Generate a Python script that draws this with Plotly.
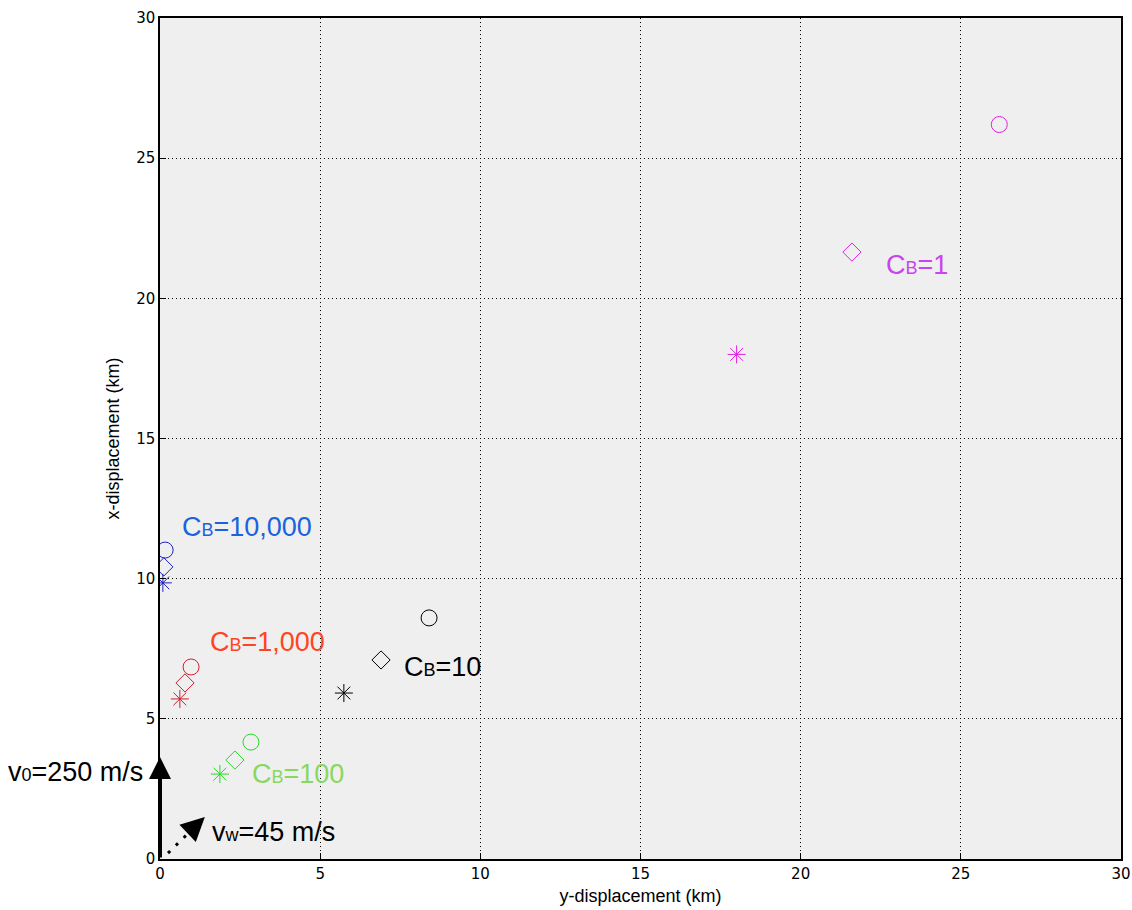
import plotly.graph_objects as go

SUB = '<span style="font-size:18px">{}</span>'

# Ballistic coefficient groups and landing displacements (km)
cb_values = ["1", "10", "100", "1,000", "10,000"]
cb_labels = ["C" + SUB.format("B") + "=" + v for v in cb_values]
marker_colors = ["#e020e0", "#000000", "#22dd22", "#d02030", "#2020c0"]
label_colors = ["#c844f0", "#000000", "#88d860", "#ff4422", "#1b62de"]

# y-displacement / x-displacement for each marker type, per group
star_y = [18.0, 5.74, 1.87, 0.62, 0.09]
star_x = [18.0, 5.92, 3.03, 5.71, 9.85]
diamond_y = [21.6, 6.9, 2.34, 0.78, 0.12]
diamond_x = [21.65, 7.1, 3.53, 6.28, 10.42]
circle_y = [26.2, 8.4, 2.84, 0.97, 0.16]
circle_x = [26.2, 8.6, 4.17, 6.85, 11.02]

# label anchor (left edge, vertical centre) in data units
label_y = [22.6, 7.55, 2.81, 1.5, 0.62]
label_x = [21.2, 6.85, 3.03, 7.74, 11.84]

x_ticks = [0, 5, 10, 15, 20, 25, 30]
y_ticks = [0, 5, 10, 15, 20, 25, 30]

TEXT_FONT = "Liberation Sans, Arial, Helvetica, sans-serif"

fig = go.Figure()

# velocity arrows
v0_len = 3.64
wind_start = (0.25, 0.21)
wind_tip = (1.4, 1.5)

fig.add_trace(go.Scatter(
    x=[wind_start[0], 1.15], y=[wind_start[1], 1.22], mode="lines",
    line=dict(color="black", width=3, dash="3px,8px"),
    hoverinfo="skip", showlegend=False))

for i in range(len(cb_labels)):
    c = marker_colors[i]
    fig.add_trace(go.Scatter(
        x=[star_y[i]], y=[star_x[i]], mode="markers",
        marker=dict(symbol="asterisk-open", size=15, color=c,
                    line=dict(color=c, width=1)),
        showlegend=False))
    fig.add_trace(go.Scatter(
        x=[diamond_y[i]], y=[diamond_x[i]], mode="markers",
        marker=dict(symbol="diamond-open", size=14, color=c,
                    line=dict(color=c, width=1)),
        showlegend=False))
    fig.add_trace(go.Scatter(
        x=[circle_y[i]], y=[circle_x[i]], mode="markers",
        marker=dict(symbol="circle-open", size=16, color=c,
                    line=dict(color=c, width=1)),
        showlegend=False))
    fig.add_annotation(
        x=label_y[i], y=label_x[i], xref="x", yref="y",
        text=cb_labels[i], showarrow=False, xanchor="left", yanchor="middle",
        font=dict(family=TEXT_FONT, size=27, color=label_colors[i]))

fig.add_annotation(
    x=0, y=v0_len, ax=0, ay=0, xref="x", yref="y", axref="x", ayref="y",
    showarrow=True, arrowhead=2, arrowsize=1.1, arrowwidth=4,
    arrowcolor="black", text="", standoff=0, startstandoff=0)
fig.add_annotation(
    x=wind_tip[0], y=wind_tip[1], ax=1.05, ay=1.12, xref="x", yref="y",
    axref="x", ayref="y", showarrow=True, arrowhead=2, arrowsize=1.9,
    arrowwidth=2.5, arrowcolor="black", text="", standoff=0)
fig.add_annotation(
    x=-0.016, y=3.12, xref="paper", yref="y",
    text="v" + SUB.format("0") + "=250 m/s",
    showarrow=False, xanchor="right", yanchor="middle",
    font=dict(family=TEXT_FONT, size=27, color="black"))
fig.add_annotation(
    x=1.56, y=0.98, xref="x", yref="y",
    text="v" + SUB.format("w") + "=45 m/s",
    showarrow=False, xanchor="left", yanchor="middle",
    font=dict(family=TEXT_FONT, size=27, color="black"))

axis_common = dict(
    showline=True, linecolor="black", linewidth=1.5, mirror=True,
    showgrid=True, gridcolor="black", gridwidth=1, griddash="1px,3px",
    zeroline=False, ticks="inside", ticklen=6, tickcolor="black",
    automargin=False,
    tickfont=dict(family="DejaVu Sans, sans-serif", size=15, color="black"),
    title_font=dict(family=TEXT_FONT, size=18, color="black"),
)

fig.update_xaxes(range=[0, 30], tickvals=x_ticks,
                 title_text="y-displacement (km)", title_standoff=8,
                 **axis_common)
fig.update_yaxes(range=[0, 30], tickvals=y_ticks,
                 title_text="x-displacement (km)", title_standoff=12,
                 **axis_common)

fig.update_layout(
    width=1132, height=910,
    margin=dict(l=160, r=11, t=18, b=51),
    paper_bgcolor="white", plot_bgcolor="#efefef",
    showlegend=False, hovermode=False,
)

fig.write_html("out.html")
